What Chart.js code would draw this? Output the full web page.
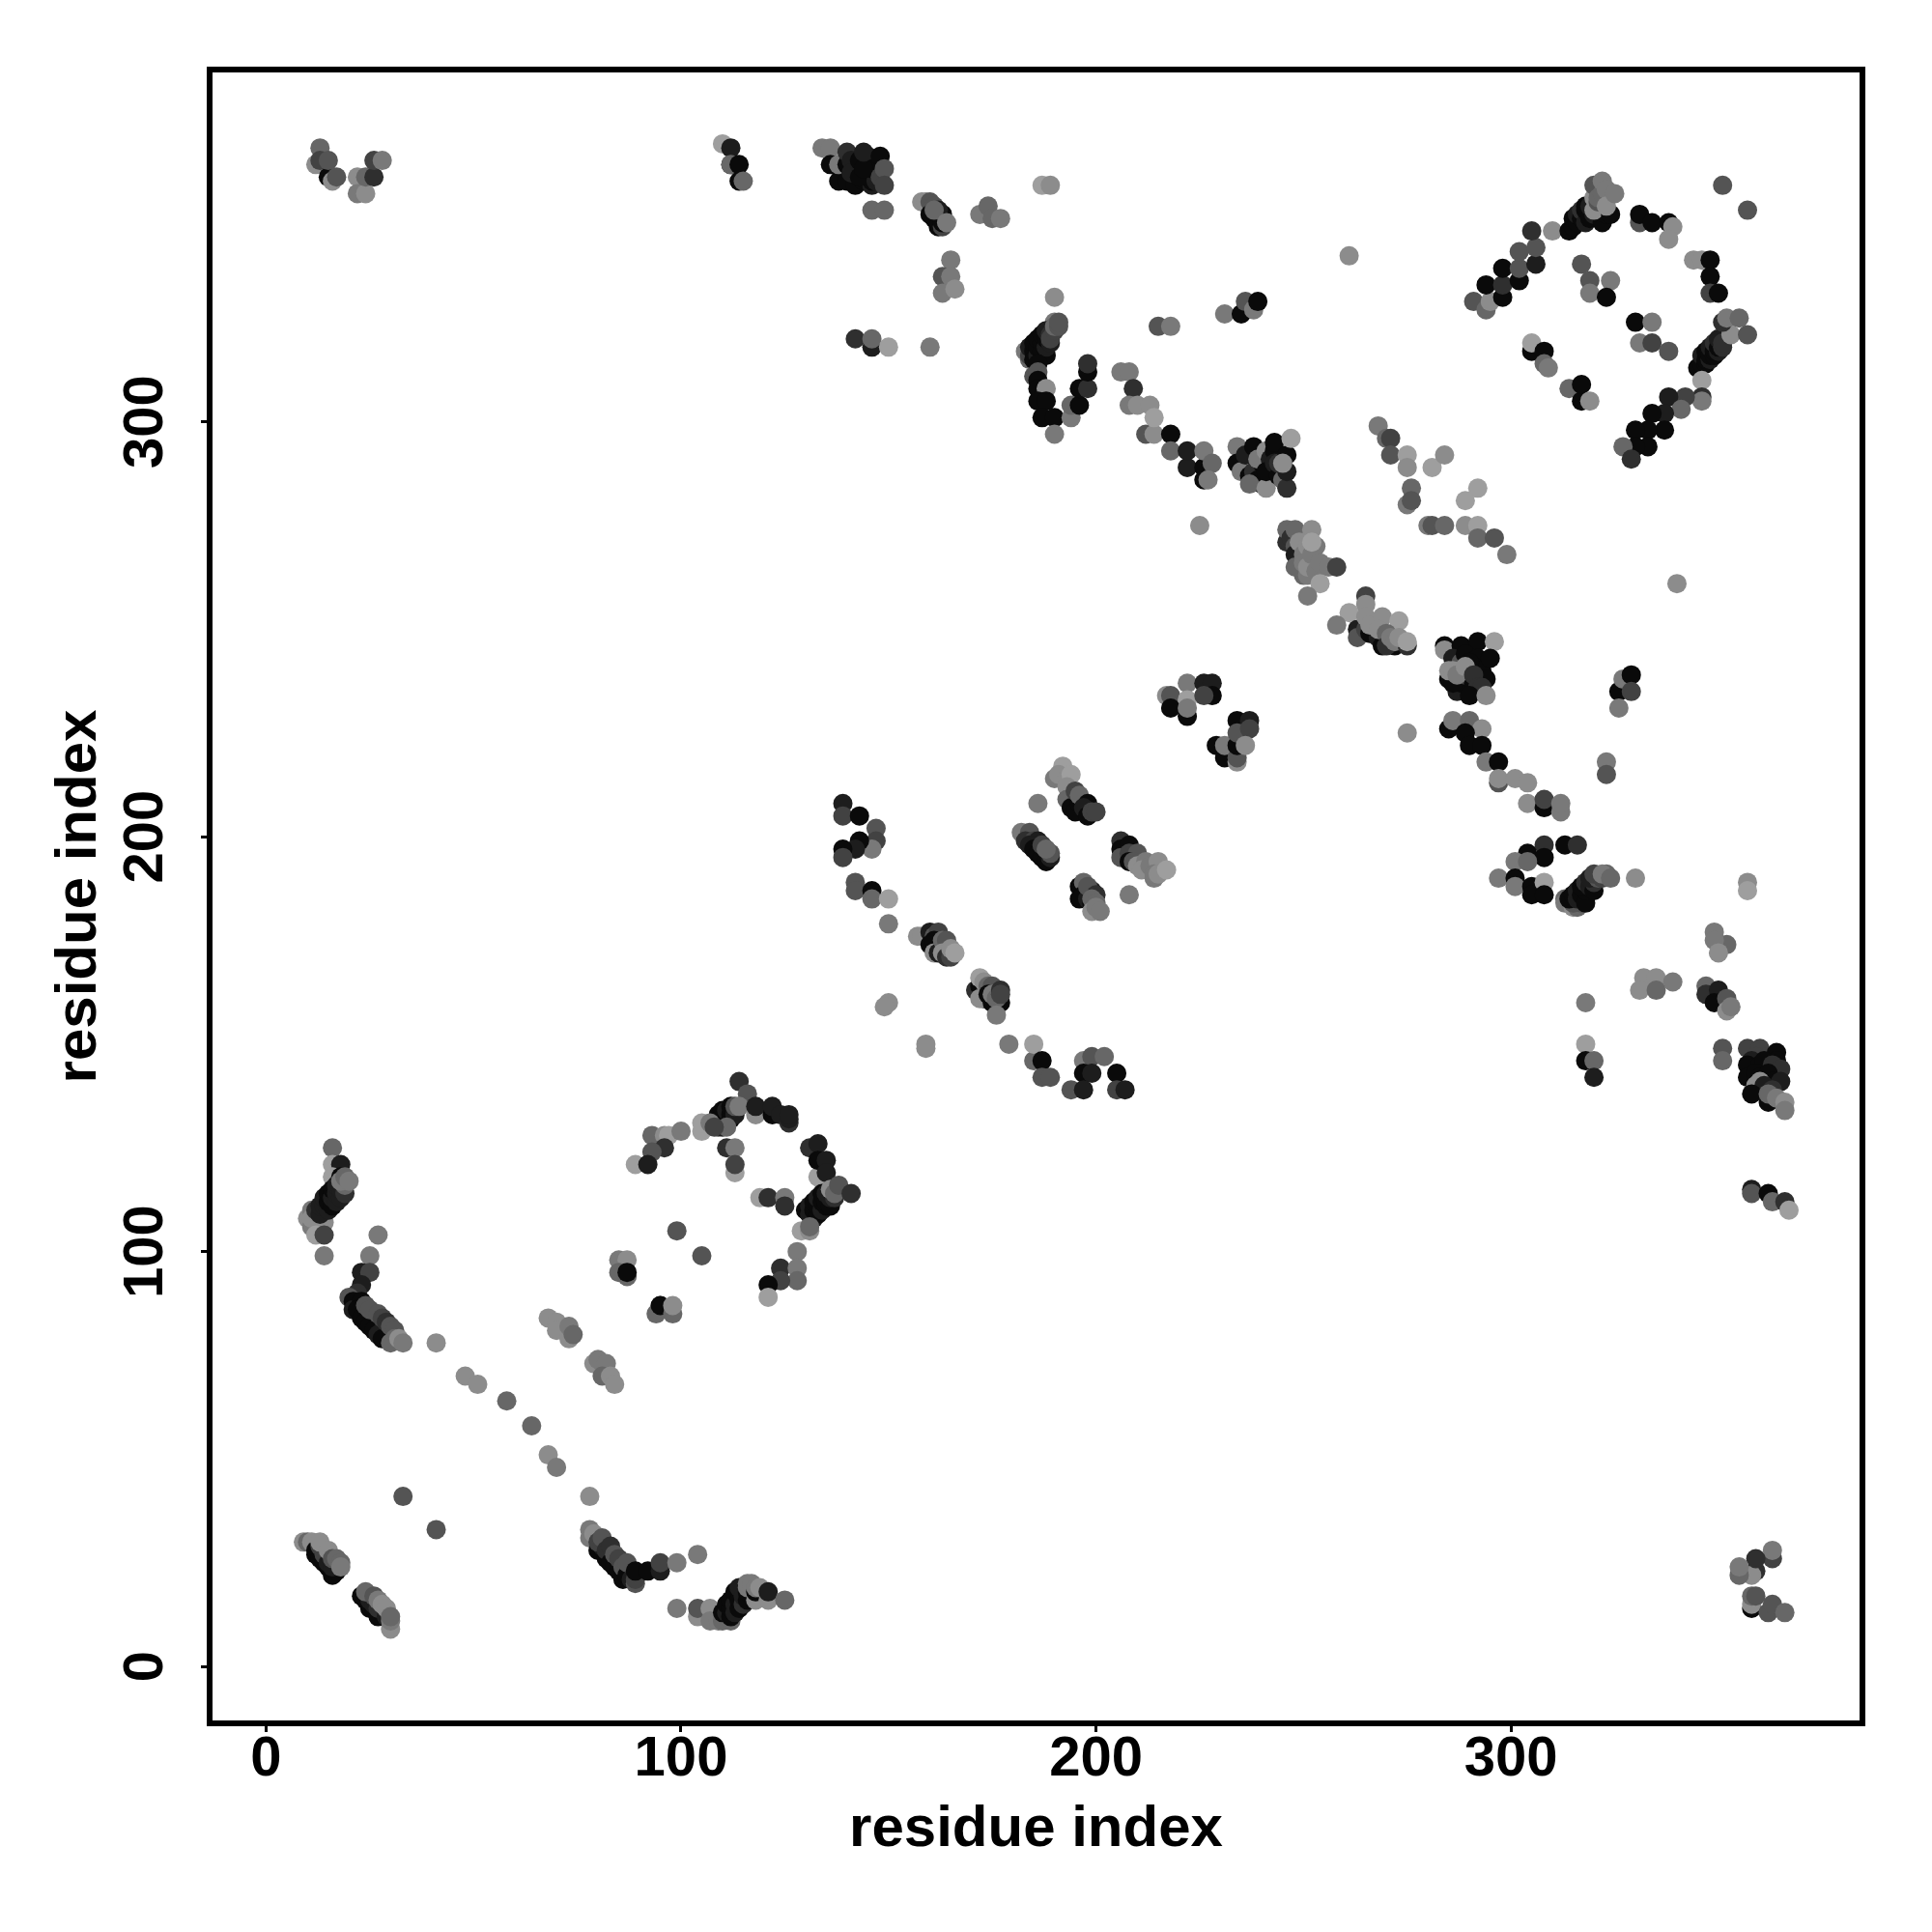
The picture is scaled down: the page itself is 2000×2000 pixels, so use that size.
<!DOCTYPE html>
<html>
<head>
<meta charset="utf-8">
<title>residue contacts</title>
<script src="https://cdn.jsdelivr.net/npm/chart.js@4"></script>
<style>
html, body { margin: 0; padding: 0; background: #fff; }
canvas { display: block; }
</style>
</head>
<body>
<canvas id="contactMap" width="2000" height="2000"></canvas>
<script>
// every contact is [residue i, residue j, tone], tone 0 (black) to 8 (light grey)
var tickValues = [0, 100, 200, 300];

var topLeftV = [[12,362,7],[13,366,5],[13,363,3],[15,359,0],[16,358,7],[15,363,4],[17,359,4],[22,359,7],[22,355,6],[24,355,7],[24,359,5],[26,359,2],[26,363,3],[28,363,6]];
var topBand = [[110,367,8],[112,362,0],[112,366,1],[112,362,5],[114,358,0],[114,362,0],[115,358,5],[134,366,6],[136,366,6],[136,362,0],[138,358,0],[138,362,6],[140,362,0],[140,358,0],[142,360,0],[142,357,0],[144,358,0],[146,357,1],[146,358,0],[140,365,2],[141,363,1],[141,360,1],[143,363,0],[143,359,0],[145,362,0],[145,364,1],[147,360,0],[147,358,1],[146,361,0],[144,361,0],[144,365,1],[148,364,0],[148,359,3],[149,361,4],[149,357,3],[146,351,5],[149,351,5],[158,353,7],[159,353,7],[160,353,4],[161,352,4],[160,350,0],[161,349,0],[163,350,0],[162,351,1],[162,347,0],[163,347,3],[163,348,0],[161,351,5],[164,348,6],[165,339,6],[163,335,4],[165,335,6],[163,331,6],[166,332,7],[146,318,1],[142,320,2],[146,320,5],[150,318,8],[160,318,6],[172,350,6],[174,352,5],[175,349,5],[177,349,6],[187,357,8],[189,357,7],[190,330,7]];
var sheetE = [[190,324,6],[183,317,6],[184,315,5],[184,316,3],[184,318,1],[185,317,0],[185,315,0],[185,319,0],[186,316,1],[186,318,0],[186,320,0],[187,317,0],[187,319,0],[187,321,0],[188,316,0],[188,318,1],[188,320,0],[188,322,1],[189,319,1],[189,321,2],[189,320,3],[190,322,3],[190,323,5],[191,323,4],[191,324,4],[186,314,0],[185,311,4],[186,312,4],[186,310,0],[186,308,0],[188,308,7],[186,305,0],[188,305,0],[187,301,0],[190,301,0],[190,297,6],[194,301,6],[194,304,5],[196,304,0],[196,308,0],[198,308,2],[198,312,0],[198,314,2]];
var sheetF = [[206,312,6],[208,312,6],[209,308,2],[208,304,6],[210,304,7],[213,304,7],[212,297,4],[214,297,7],[214,301,8],[218,297,0],[218,293,5],[222,289,1],[222,293,1],[226,289,0],[226,293,6],[228,290,5],[226,286,0],[227,286,6],[225,275,7],[215,323,4],[218,323,6],[231,326,6],[235,326,0],[236,329,4],[238,327,6],[239,329,0]];
var blockG = [[234,294,6],[234,290,0],[235,288,6],[236,292,1],[238,294,0],[237,287,0],[238,288,2],[240,290,0],[239,291,6],[239,286,0],[240,285,0],[237,285,5],[241,284,7],[241,293,7],[242,291,1],[241,288,0],[243,293,0],[243,295,0],[243,290,1],[244,287,0],[244,290,2],[245,286,5],[246,284,2],[246,288,1],[246,292,0],[245,290,7],[247,296,8]];
var ringTop = [[261,340,7],[291,329,4],[294,327,5],[295,329,7],[298,330,0],[294,333,0],[298,333,2],[298,337,0],[302,334,0],[302,337,4],[302,341,4],[306,338,1],[306,342,4],[305,346,2],[310,346,7],[314,346,0],[315,347,0],[315,349,0],[316,348,0],[316,350,1],[317,349,0],[317,351,2],[318,348,1],[318,351,0],[318,352,0],[319,349,0],[319,352,1],[320,350,1],[322,348,0],[322,352,0],[323,350,0],[320,351,7],[320,354,7],[320,357,4],[321,353,4],[321,354,5],[322,355,5],[322,358,6],[323,356,6],[324,350,0],[323,352,7],[325,355,6],[331,348,4],[331,350,0],[334,348,0],[338,348,0],[339,347,7],[338,344,7],[351,357,4],[357,351,4],[344,339,7],[346,339,7],[348,339,0],[348,335,0],[348,331,3],[350,331,0]];
var ringInner = [[317,338,4],[319,334,4],[324,334,6],[319,331,6],[323,330,0],[330,324,0],[334,324,6],[331,319,6],[334,319,3],[338,317,4],[305,317,0],[305,319,8],[308,317,0],[308,314,5],[309,313,6],[314,308,5],[317,305,0],[317,309,0],[319,305,7]];
var ringRight = [[345,313,0],[346,314,0],[346,316,1],[347,314,0],[347,315,0],[347,317,0],[348,315,1],[348,316,0],[348,318,1],[349,316,0],[349,317,0],[349,319,2],[350,317,1],[350,318,0],[350,320,1],[351,318,2],[351,319,2],[353,321,7],[351,324,2],[352,325,6],[355,325,5],[357,321,4],[346,310,8],[346,306,2],[346,305,6],[342,306,3],[338,306,1],[341,303,5],[337,302,1],[334,302,0],[337,298,0],[333,298,0],[330,298,0],[333,294,0],[330,294,0],[327,294,5],[329,291,2]];
var midStrip = [[268,299,6],[270,296,5],[271,296,3],[271,292,4],[275,292,8],[275,289,7],[281,289,8],[284,292,7],[275,280,6],[276,284,5],[276,281,4],[292,284,8],[289,281,8],[280,275,6],[281,275,4],[284,275,5],[289,275,7],[292,275,8],[292,272,5],[296,272,4],[299,268,6]];
var clusterI = [[246,271,2],[246,274,5],[247,272,2],[248,274,5],[248,270,4],[249,268,1],[248,268,1],[249,265,0],[252,274,7],[253,270,6],[249,271,7],[250,264,1],[250,263,5],[248,265,5],[250,268,6],[250,266,6],[251,263,6],[251,265,7],[251,270,7],[252,268,6],[252,271,8],[253,264,6],[254,266,6],[256,265,6],[258,265,3],[254,261,8],[251,258,6],[340,261,7]];
var clusterJ = [[265,258,3],[265,256,7],[261,254,8],[258,251,6],[263,250,1],[263,248,4],[265,250,3],[266,249,0],[268,248,1],[269,246,0],[272,246,0],[265,253,7],[266,251,7],[269,253,7],[273,252,8],[268,250,7],[270,249,5],[270,246,2],[271,248,6],[272,247,6],[275,246,2],[273,248,7],[275,247,8]];
var clusterK = [[284,246,0],[284,245,7],[288,246,0],[292,247,0],[296,247,8],[285,238,0],[287,235,1],[287,241,0],[286,243,1],[288,242,4],[288,237,0],[289,244,0],[292,243,0],[291,241,0],[293,240,0],[295,243,0],[286,237,0],[289,239,3],[291,237,0],[294,238,0],[285,240,7],[286,240,7],[290,242,0],[287,239,6],[289,241,7],[291,239,2],[292,236,2],[293,236,2],[290,234,0],[294,234,7]];
var clusterL = [[285,226,0],[286,228,6],[290,228,5],[293,226,7],[289,225,0],[290,222,0],[293,222,0],[294,218,6],[297,218,0],[297,213,4],[297,214,7],[301,214,7],[304,213,7],[304,208,7],[308,207,0],[308,209,3],[312,206,6],[312,208,6],[275,225,7],[323,218,6],[323,215,4],[326,235,0],[327,238,6],[329,239,0],[329,235,3],[326,231,6]];
var clusterM = [[217,234,7],[218,234,4],[222,237,6],[222,233,8],[218,231,0],[222,229,0],[222,231,6],[226,237,1],[228,237,1],[228,234,0],[226,234,3],[229,222,0],[231,219,0],[231,222,6],[234,218,7],[234,219,4],[234,222,0],[234,228,0],[237,228,1],[234,225,4],[237,226,3],[236,222,7]];
var clusterN = [[192,217,8],[190,214,6],[191,215,7],[193,214,7],[194,215,8],[193,212,7],[193,209,5],[194,207,0],[195,206,0],[196,208,0],[195,211,3],[196,210,5],[198,208,0],[197,207,1],[198,205,0],[199,206,3],[200,206,3],[186,208,6],[182,201,6],[184,201,4],[183,199,2],[185,199,3],[186,199,1],[184,198,1],[185,197,0],[186,196,0],[187,195,0],[188,194,0],[189,195,1],[187,198,3],[189,196,4],[188,197,5],[206,199,2],[206,197,0],[207,195,0],[208,198,0],[206,195,4],[208,196,3],[210,196,4],[208,194,0],[209,194,4],[210,193,7],[212,194,6],[211,192,7],[213,193,6],[215,194,7],[214,190,6],[214,191,6],[215,191,7],[217,192,8],[196,188,0],[197,189,5],[197,186,0],[199,187,1],[196,185,0],[198,185,1],[199,184,0],[198,188,4],[200,186,2],[199,185,5],[200,184,5],[199,182,7],[200,183,6],[201,182,6],[208,186,6]];
var smile = [[308,198,2],[304,196,0],[308,195,0],[313,198,0],[316,198,2],[301,194,6],[304,194,5],[297,190,6],[301,190,0],[301,188,6],[305,188,0],[305,186,0],[308,189,8],[308,186,0],[313,185,5],[313,184,6],[315,183,7],[316,183,5],[317,184,4],[315,184,4],[314,185,0],[315,186,0],[316,185,1],[316,187,1],[317,186,0],[318,184,0],[318,187,0],[317,188,0],[318,189,2],[319,188,1],[320,187,0],[320,189,2],[319,190,1],[321,190,4],[320,191,3],[322,190,3],[323,191,5],[322,191,6],[324,190,5],[330,190,7],[357,189,7],[357,187,8]];
var rightSide = [[349,177,6],[352,174,5],[349,175,6],[350,172,7],[332,166,7],[335,166,7],[339,165,6],[331,163,7],[335,163,5],[347,164,5],[347,162,2],[350,163,1],[349,160,0],[352,161,4],[352,158,7],[353,159,6],[318,160,6],[318,150,8],[318,146,0],[320,146,5],[320,142,1],[351,149,4],[351,146,5]];
var clusterP = [[357,149,3],[360,149,3],[359,147,3],[362,147,3],[364,148,0],[364,146,0],[358,146,1],[357,145,0],[360,145,0],[361,146,0],[363,145,2],[365,144,2],[357,142,0],[359,143,0],[360,142,0],[362,143,0],[363,141,0],[360,141,7],[359,140,7],[361,140,1],[365,141,1],[358,138,0],[362,136,0],[363,139,2],[362,138,5],[364,137,6],[366,136,7],[366,134,6],[358,115,1],[358,114,4],[362,114,0],[363,112,5],[366,112,2],[367,110,8]];
var diagonalLow = [[179,150,6],[185,146,5],[185,150,8],[187,146,0],[187,142,4],[189,142,4],[197,146,6],[199,147,4],[202,147,5],[197,143,0],[199,143,1],[205,143,0],[194,139,4],[197,139,1],[205,139,3],[207,139,1]];
var clusterR = [[139,208,1],[139,205,3],[143,205,0],[147,202,4],[147,199,3],[146,197,6],[143,199,0],[142,197,1],[139,197,0],[139,195,3],[142,189,4],[142,187,4],[146,187,0],[146,185,5],[150,185,8],[150,179,6]];
var clusterS = [[157,176,7],[158,176,7],[160,177,1],[161,176,4],[162,177,3],[160,174,0],[161,175,0],[161,172,7],[162,172,1],[163,173,1],[163,175,5],[164,175,4],[163,172,7],[164,171,2],[165,171,3],[165,173,7],[166,172,8],[171,163,2],[172,164,0],[173,161,0],[172,161,7],[172,166,8],[173,165,7],[174,164,5],[175,164,4],[174,162,0],[175,160,0],[176,160,0],[177,160,0],[175,162,6],[176,161,5],[177,163,2],[177,162,3],[176,157,6],[150,160,7],[149,159,7],[159,150,7],[159,149,7]];
var ringLowTop = [[114,141,2],[108,131,2],[109,130,3],[110,130,1],[109,133,0],[110,132,0],[110,134,0],[111,132,0],[111,134,1],[112,132,0],[112,133,0],[112,135,0],[113,133,1],[111,130,5],[113,135,4],[116,138,4],[114,135,6],[118,133,7],[118,135,1],[122,133,0],[122,135,1],[124,133,1],[126,131,2],[126,132,1],[126,133,1],[105,129,8],[105,131,8],[107,131,6],[108,130,3],[93,128,5],[96,128,7],[97,128,8],[100,129,6],[96,125,2],[93,124,4],[89,121,8],[92,121,1]];
var ringLowInner = [[111,125,2],[113,125,6],[113,119,8],[113,121,3],[119,113,8],[121,113,2],[125,113,6],[125,111,2],[99,105,4],[105,99,4],[85,98,6],[87,98,7],[85,95,5],[87,94,5],[87,95,0],[94,85,5],[95,87,5],[95,87,0],[98,85,5],[98,87,7]];
var ringLowRight = [[131,125,2],[133,126,1],[133,118,8],[133,122,0],[135,122,1],[135,119,1],[130,110,0],[131,109,0],[131,109,1],[131,111,1],[132,108,1],[132,110,0],[132,112,0],[133,109,0],[133,111,0],[133,113,1],[134,110,1],[134,112,0],[134,114,0],[135,111,0],[135,112,0],[135,114,1],[136,111,0],[136,113,1],[137,113,2],[136,115,7],[137,114,5],[138,116,4],[141,114,2],[129,105,8],[131,105,7],[131,106,5],[128,100,6],[124,96,2],[128,96,6],[128,93,5],[124,93,3],[121,92,0],[121,89,8]];
var chainMid = [[68,84,7],[70,83,7],[70,81,7],[73,79,7],[73,82,6],[74,80,5],[79,73,7],[80,74,6],[82,73,6],[81,70,5],[83,70,7],[84,68,7],[48,70,7],[51,68,7],[58,64,5],[64,58,5],[68,51,7],[70,48,6],[78,41,7],[33,41,4],[41,33,4],[41,78,7]];
var leftBlock = [[16,125,5],[16,121,8],[18,121,1],[16,118,8],[18,118,0],[10,108,7],[11,106,6],[11,110,6],[11,108,7],[14,107,7],[12,104,8],[14,104,3],[14,99,6],[12,110,2],[13,109,1],[13,111,1],[14,111,1],[14,113,1],[15,110,1],[15,112,0],[15,114,0],[16,111,0],[16,113,1],[16,115,0],[17,112,1],[17,114,1],[17,116,1],[18,113,1],[18,115,1],[19,114,2],[19,116,5],[18,117,6],[19,118,5],[20,117,6],[27,104,6],[25,99,6]];
var leftChain = [[23,95,1],[25,95,3],[23,92,1],[22,90,2],[20,89,4],[21,88,0],[21,86,1],[23,88,0],[22,86,0],[23,84,0],[24,83,0],[25,82,0],[26,81,0],[27,80,1],[28,79,0],[24,87,4],[25,86,4],[27,85,4],[28,84,3],[29,83,2],[30,82,4],[31,81,4],[31,79,5],[30,78,5],[32,79,7],[33,78,6]];
var lowerV = [[78,33,6],[78,31,6],[79,32,7],[80,28,0],[81,29,1],[80,30,3],[81,31,4],[82,26,0],[82,28,2],[83,25,0],[83,29,2],[84,24,0],[85,23,0],[84,27,4],[85,26,3],[86,21,0],[86,24,4],[87,22,0],[88,21,1],[87,25,4],[89,20,4],[89,21,3],[89,23,0],[92,23,0],[95,23,1],[95,25,3],[99,25,6],[104,27,6]];
var lowerW = [[99,14,6],[104,12,7],[104,14,4],[107,14,7],[107,11,6],[109,11,6],[110,11,5],[112,11,5],[110,13,0],[111,13,1],[112,12,0],[111,15,0],[112,14,0],[112,16,0],[113,13,1],[113,15,1],[113,18,0],[114,14,0],[114,16,0],[114,19,1],[115,15,2],[115,17,1],[116,16,0],[116,18,0],[117,19,0],[116,19,6],[116,20,6],[117,20,6],[118,16,7],[118,18,0],[118,19,6],[119,19,7],[121,16,7],[121,18,1],[125,16,5]];
var lowerX = [[9,30,7],[10,30,5],[11,30,7],[12,27,0],[12,28,0],[13,26,0],[14,25,0],[15,24,0],[16,22,0],[17,23,0],[13,29,3],[14,27,3],[15,25,1],[16,24,1],[13,30,7],[15,28,7],[16,26,4],[17,26,5],[18,25,5],[18,24,6],[23,17,0],[24,16,0],[25,14,0],[26,14,0],[27,12,0],[28,13,0],[25,16,1],[26,15,1],[27,14,2],[29,12,1],[24,18,5],[26,17,4],[27,16,6],[28,15,7],[29,14,7],[30,9,7],[30,11,6],[30,12,5]];
var cornerZ = [[363,26,3],[363,28,6],[359,23,2],[358,22,7],[359,26,2],[355,22,5],[355,24,6],[358,14,0],[358,15,7],[358,17,5],[359,17,4],[362,13,4],[363,15,4],[366,13,5]];

var contacts = [].concat(topLeftV, topBand, sheetE, sheetF, blockG, ringTop, ringInner, ringRight, midStrip,
  clusterI, clusterJ, clusterK, clusterL, clusterM, clusterN, smile, rightSide, clusterP, diagonalLow,
  clusterR, clusterS, ringLowTop, ringLowInner, ringLowRight, chainMid, leftBlock, leftChain, lowerV, lowerW, lowerX, cornerZ);

function toneColor(t) {
  var g = Math.round(10 + t * 18.5);
  return 'rgb(' + g + ',' + g + ',' + g + ')';
}

var plotFrame = {
  id: 'plotFrame',
  afterDatasetsDraw: function (chart) {
    var a = chart.chartArea, c = chart.ctx;
    c.save();
    c.strokeStyle = '#000';
    c.lineWidth = 6;
    c.strokeRect(a.left, a.top, a.right - a.left, a.bottom - a.top);
    c.restore();
  }
};

var tickFont = { family: '"Liberation Sans"', size: 58, weight: 'bold' };
var titleFont = { family: '"Liberation Sans"', size: 60, weight: 'bold' };

new Chart(document.getElementById('contactMap').getContext('2d'), {
  type: 'scatter',
  data: {
    datasets: [{
      data: contacts.map(function (d) { return { x: d[0], y: d[1] }; }),
      backgroundColor: contacts.map(function (d) { return toneColor(d[2]); }),
      borderWidth: 0,
      pointRadius: 10,
      pointHoverRadius: 10
    }]
  },
  options: {
    responsive: false,
    devicePixelRatio: 1,
    animation: false,
    events: [],
    layout: { padding: { top: 72, right: 72, left: 0, bottom: 0 } },
    plugins: { legend: { display: false }, tooltip: { enabled: false } },
    scales: {
      x: {
        type: 'linear',
        min: -13.6,
        max: 384.7,
        afterBuildTicks: function (s) { s.ticks = tickValues.map(function (v) { return { value: v }; }); },
        afterFit: function (s) { s.height = 216; },
        border: { display: false },
        grid: { drawOnChartArea: false, tickLength: 9, tickWidth: 3, tickColor: '#000' },
        ticks: { color: '#000', font: tickFont, padding: -6, maxRotation: 0, autoSkip: false },
        title: { display: true, text: 'residue index', color: '#000', font: titleFont, padding: { top: 0, bottom: 70 } }
      },
      y: {
        type: 'linear',
        min: -13.7,
        max: 384.9,
        afterBuildTicks: function (s) { s.ticks = tickValues.map(function (v) { return { value: v }; }); },
        afterFit: function (s) { s.width = 217; },
        border: { display: false },
        grid: { drawOnChartArea: false, tickLength: 9, tickWidth: 3, tickColor: '#000' },
        ticks: { color: '#000', font: tickFont, padding: 8, minRotation: 90, maxRotation: 90, crossAlign: 'center', autoSkip: false },
        title: { display: true, text: 'residue index', color: '#000', font: titleFont, padding: { top: 46, bottom: 0 } }
      }
    }
  },
  plugins: [plotFrame]
});
</script>
</body>
</html>
